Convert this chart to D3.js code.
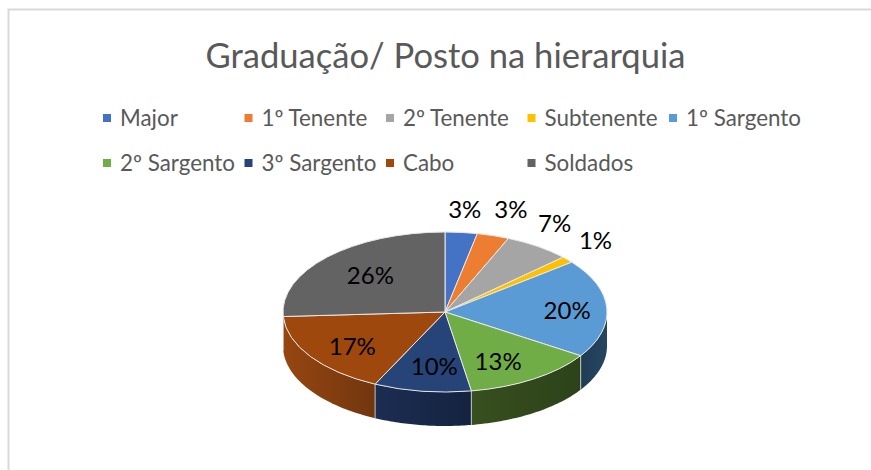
<!DOCTYPE html>
<html>
<head>
<meta charset="utf-8">
<script src="https://cdn.jsdelivr.net/npm/d3@7"></script>
<style>
  html, body { margin: 0; padding: 0; background: #fff; }
  svg { display: block; }
  text { font-family: Lato, "Open Sans", sans-serif; }
</style>
</head>
<body>
<div id="chart"></div>
<script>
var width = 871,
    height = 470;

// values (labels are rounded)
var categories = ["Major", "1º Tenente", "2º Tenente", "Subtenente", "1º Sargento",
                  "2º Sargento", "3º Sargento", "Cabo", "Soldados"];
var values = [3.2, 3.2, 6.6, 1.3, 19.9, 13.2, 9.7, 17, 25.9];
var colors = ["#4472c4", "#ed7d31", "#a5a5a5", "#ffc000", "#5b9bd5",
              "#70ad47", "#264478", "#9e480e", "#636363"];
var wallLeft = ["#2b4a80", "#9a5120", "#6b6b6b", "#a67d00", "#1f3c55",
                "#384f1f", "#1b2d52", "#974610", "#404040"];
var wallRight = ["#2b4a80", "#9a5120", "#6b6b6b", "#a67d00", "#264660",
                 "#2c421a", "#152340", "#71360f", "#404040"];
var legendCols = [0, 1, 2, 3, 4, 0, 1, 2, 3];
var legendRows = [0, 0, 0, 0, 0, 1, 1, 1, 1];
// label nudges from the point at 60% of the radius
var labelNudge = [[10, -55], [37, -57], [54, -49], [77, -40], [25, 1],
                  [0, 9], [3, 7], [-12, 8], [-4, -3]];

var cx = 445, cy = 312, rx = 162, ry = 80, depth = 34;

var svg = d3.select("#chart")
    .append("svg")
    .attr("width", width)
    .attr("height", height);

// frame, only top and left are visible in the crop
svg.append("path")
    .attr("d", "M8.5,470V9.5H871")
    .attr("fill", "none")
    .attr("stroke", "#d9d9d9")
    .attr("stroke-width", 2);

svg.append("text")
    .attr("x", 445.5)
    .attr("y", 67.5)
    .attr("text-anchor", "middle")
    .attr("font-size", 34.6)
    .attr("fill", "#595959")
    .text("Graduação/ Posto na hierarquia");

var legendX = d3.scaleLinear().domain([0, 4]).range([103, 669]);
var legendY = d3.scaleLinear().domain([0, 1]).range([118, 163]);

var legend = svg.append("g")
    .selectAll("g")
    .data(categories)
    .enter().append("g")
    .attr("transform", function(d, i) {
      return "translate(" + legendX(legendCols[i]) + "," + legendY(legendRows[i]) + ")";
    });

legend.append("rect")
    .attr("y", -4)
    .attr("width", 8)
    .attr("height", 8)
    .attr("fill", function(d, i) { return colors[i]; });

legend.append("text")
    .attr("x", 17)
    .attr("y", 7.5)
    .attr("font-size", 22.4)
    .attr("fill", "#595959")
    .text(function(d) { return d; });

var pie = d3.pie().sort(null);
var arcs = pie(values);
var total = d3.sum(values);

function px(a, k) { return cx + rx * k * Math.sin(a); }
function py(a, k) { return cy - ry * k * Math.cos(a); }

var defs = svg.append("defs");

arcs.forEach(function(d, i) {
  var g = defs.append("linearGradient").attr("id", "wall" + i);
  g.append("stop").attr("offset", "0%").attr("stop-color", wallLeft[i]);
  g.append("stop").attr("offset", "100%").attr("stop-color", wallRight[i]);
});

// outer wall, only the front half of the ellipse can be seen
var wallLine = d3.line();

function wallPath(d) {
  var a0 = Math.max(d.startAngle, Math.PI / 2),
      a1 = Math.min(d.endAngle, Math.PI * 3 / 2);
  if (a1 <= a0) return null;
  var steps = d3.range(0, 41).map(function(s) { return a0 + (a1 - a0) * s / 40; });
  var top = steps.map(function(a) { return [px(a, 1), py(a, 1)]; });
  var bottom = steps.slice().reverse().map(function(a) { return [px(a, 1), py(a, 1) + depth]; });
  return wallLine(top.concat(bottom)) + "Z";
}

svg.append("g")
    .selectAll("path")
    .data(arcs.filter(function(d) { return wallPath(d); }))
    .enter().append("path")
    .attr("d", wallPath)
    .attr("fill", function(d) { return "url(#wall" + d.index + ")"; });

// light edges where the slices meet on the wall
svg.append("g")
    .selectAll("line")
    .data(arcs.filter(function(d) {
      return d.endAngle > Math.PI / 2 && d.endAngle < Math.PI * 3 / 2;
    }))
    .enter().append("line")
    .attr("x1", function(d) { return px(d.endAngle, 1); })
    .attr("x2", function(d) { return px(d.endAngle, 1); })
    .attr("y1", function(d) { return py(d.endAngle, 1); })
    .attr("y2", function(d) { return py(d.endAngle, 1) + depth; })
    .attr("stroke", "#e4e7ea")
    .attr("stroke-opacity", 0.75)
    .attr("stroke-width", 1);

// top face: a circular arc squashed into the ellipse
var arc = d3.arc().innerRadius(0).outerRadius(rx);

svg.append("g")
    .attr("transform", "translate(" + cx + "," + cy + ") scale(1," + (ry / rx) + ")")
    .selectAll("path")
    .data(arcs)
    .enter().append("path")
    .attr("d", arc)
    .attr("fill", function(d, i) { return colors[i]; })
    .attr("stroke", "#e8e8e8")
    .attr("stroke-width", 1)
    .attr("vector-effect", "non-scaling-stroke");

var fmt = d3.format(".0f");

svg.append("g")
    .selectAll("text")
    .data(arcs)
    .enter().append("text")
    .attr("x", function(d, i) { return px((d.startAngle + d.endAngle) / 2, 0.6) + labelNudge[i][0]; })
    .attr("y", function(d, i) { return py((d.startAngle + d.endAngle) / 2, 0.6) + labelNudge[i][1]; })
    .attr("dy", "0.35em")
    .attr("text-anchor", "middle")
    .attr("font-size", 24)
    .attr("fill", "#000")
    .text(function(d) { return fmt(d.value / total * 100) + "%"; });
</script>
</body>
</html>
